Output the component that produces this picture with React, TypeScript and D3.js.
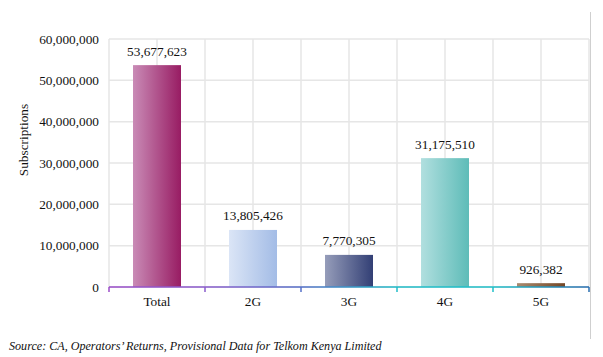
import React from "react";
import * as d3 from "d3";

const categories = ["Total", "2G", "3G", "4G", "5G"];
const values = [53677623, 13805426, 7770305, 31175510, 926382];
const yTicks = [0, 10000000, 20000000, 30000000, 40000000, 50000000, 60000000];
const barColors: [string, string][] = [
  ["#c98bb6", "#981c63"],
  ["#dbe5f6", "#a3bce6"],
  ["#969dba", "#323f75"],
  ["#b1dfdf", "#5ebcb8"],
  ["#a98b70", "#744726"],
];
const yLabel = "Subscriptions";
const source = "Source: CA, Operators’ Returns, Provisional Data for Telkom Kenya Limited";

const W = 603, H = 357;
const left = 109, right = 589, top = 39, bottom = 287;

export default function App() {
  const x = d3.scaleBand<string>().domain(categories).range([left, right]).padding(0);
  const y = d3.scaleLinear().domain([0, 60000000]).range([bottom, top]);
  const fmt = d3.format(",");
  const bw = x.bandwidth();
  const vgrid: number[] = [];
  categories.forEach((c) => {
    vgrid.push(x(c)!);
    vgrid.push(x(c)! + bw / 2);
  });
  vgrid.push(right);
  const font = "Liberation Serif, Times New Roman, serif";
  const axisCols = ["#9b4dc9", "#8a5ccc", "#5570c8", "#20bcc8", "#1fbfc8", "#2a6fb0"];
  return (
    <svg width={W} height={H} style={{ position: "absolute", left: 0, top: 0, background: "#fff" }}>
      <defs>
        {barColors.map((c, i) => (
          <linearGradient id={`bg${i}`} key={i} x1="0" x2="1" y1="0" y2="0">
            <stop offset="0%" stopColor={c[0]} />
            <stop offset="100%" stopColor={c[1]} />
          </linearGradient>
        ))}
        <linearGradient id="axisg" gradientUnits="userSpaceOnUse" x1={left} x2={right} y1="0" y2="0">
          {axisCols.map((c, i) => (
            <stop key={i} offset={`${i * 20}%`} stopColor={c} />
          ))}
        </linearGradient>
      </defs>
      {yTicks.map((t) => (
        <line key={t} x1={left} x2={right} y1={y(t)} y2={y(t)} stroke="#e6e6e6" strokeWidth={1.5} />
      ))}
      {vgrid.map((v, i) => (
        <line key={i} x1={v} x2={v} y1={top} y2={bottom} stroke="#e6e6e6" strokeWidth={1.5} />
      ))}
      <line x1={590.5} x2={590.5} y1={12} y2={339} stroke="#cfcfcf" strokeWidth={1} />
      {categories.map((c, i) => {
        const bx = x(c)! + bw / 4;
        const by = y(values[i]);
        return (
          <g key={c}>
            <rect x={bx} y={by} width={bw / 2} height={bottom - by} fill={`url(#bg${i})`} />
            <text x={x(c)! + bw / 2} y={by - 9.5} textAnchor="middle" fontFamily={font} fontSize={13.3} fill="#111">
              {fmt(values[i])}
            </text>
            <text x={x(c)! + bw / 2} y={306} textAnchor="middle" fontFamily={font} fontSize={13.3} fill="#111">
              {c}
            </text>
          </g>
        );
      })}
      <line x1={left} x2={right} y1={bottom} y2={bottom} stroke="url(#axisg)" strokeWidth={1.5} />
      {[...categories.map((c) => x(c)!), right].map((v, i) => (
        <line key={i} x1={v} x2={v} y1={bottom} y2={bottom + 5} stroke={axisCols[i]} strokeWidth={1.5} />
      ))}
      {yTicks.map((t) => (
        <text key={t} x={99} y={y(t)} dy="0.35em" textAnchor="end" fontFamily={font} fontSize={13.3} fill="#111">
          {fmt(t)}
        </text>
      ))}
      <text transform={`translate(28,140) rotate(-90)`} textAnchor="middle" fontFamily={font} fontSize={13.3} fill="#111">
        {yLabel}
      </text>
      <text x={9} y={350} fontFamily={font} fontStyle="italic" fontSize={12.1} fill="#111">
        {source}
      </text>
    </svg>
  );
}
